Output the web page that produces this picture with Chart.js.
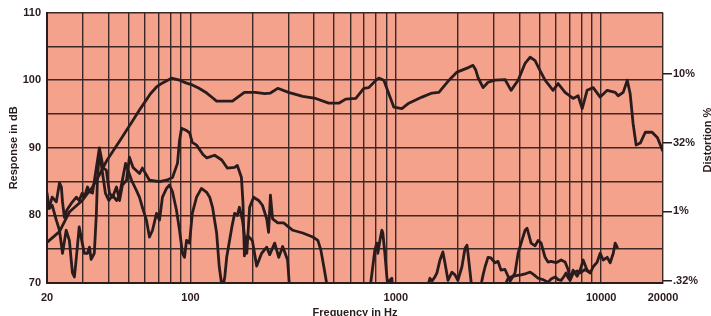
<!DOCTYPE html>
<html><head><meta charset="utf-8">
<script src="https://cdn.jsdelivr.net/npm/chart.js@4.4.1/dist/chart.umd.min.js"></script>
<style>html,body{margin:0;padding:0;background:#fff;overflow:hidden}#wrap{width:711px;height:316px;position:relative}</style>
</head><body><div id="wrap"><canvas id="c" width="711" height="316"></canvas></div>
<script>
// ---- axis definitions ----
const xGridFreqs = [20,30,40,50,60,70,80,90,100,200,300,400,500,600,700,800,900,1000,2000,3000,4000,5000,6000,7000,8000,9000,10000,20000];
const xTickLabels = [20,100,1000,10000,20000];
const distTickDb = [70.3,80.6,90.7,100.9];
const distTickLabels = ['.32%','1%','32%','10%'];

// ---- response curve (dB) ----
const respFreq = [20,23,25.7,29.7,33.3,36,38.9,43.6,45.6,48.8,51,57,63.8,68.3,73,80.8,88.4,95,102,110,120,128,134,160,170,183,207,230,245,266,300,352,407,471,527,570,638,698,738,800,826,874,924,978,1070,1156,1340,1500,1620,1815,1985,2270,2377,2450,2512,2660,2812,3040,3400,3640,3940,4260,4510,4765,5040,5330,5830,6170,6670,7300,7720,8080,8540,9140,9890,10700,11700,12100,12800,13400,13840,14300,14800,15500,16400,17700,18800,19900];
const respDb   = [76,77.6,80.5,82.2,84.2,86,88,90.3,91.2,92.6,93.5,95.8,98,99,99.6,100.3,100,99.6,99.3,98.8,98.1,97.4,96.9,96.9,97.5,98.2,98.2,98,98.1,98.8,98.2,97.6,97.3,96.6,96.6,97.2,97.3,98.8,98.9,100,100.3,100,98,96,95.8,96.6,97.5,98.1,98.2,100,101.2,101.9,102.2,101.5,100.4,98.9,99.7,100,100.1,98.5,100,102.5,103.4,102.9,101.4,100,98.5,99.5,98.2,97.3,97.7,95.8,98.5,98.9,97.5,98.5,98.2,97.7,98.2,100,98,93.6,90.4,90.7,92.3,92.3,91.5,89.6];

// ---- second-harmonic distortion trace (null = gap) ----
const h2Freq = [20,20.5,21.2,22.2,23,23.5,23.8,24.3,25,26.3,27.8,28.7,29.7,30.4,31.5,32.2,33.3,34.8,36,36.5,37.6,38.9,40.3,41.7,43.6,45.1,46.6,48.8,50.4,52.5,56.4,58.3,63.1,70.6,76.4,81.7,86.4,88.4,90.4,95,99,102,107,115,120,131,142,151,164,169,177,180,183,186,190,200,210,222,235,243,257,269,281,297,304,
  null,747,772,790,808,817,836,855,864,884,904,914,935,956,967,
  null,1416,1465,1500,1550,1585,1640,1695,1734,1794,1876,1940,2005,2098,2171,2220,2245,2349,
  null,2570,2660,2720,2812,2905,3040,3146,3250,3400,3520,3600,3724,3805,3940,4073,4260,4355,4455,4555,4765,4930,5100,5330,5510,5700,6030,6380,6670,6900,7060,7300,7640,7900,8170,8540,8840,9140,9560,9890,10230,10700,11060,11450,11700,11970];
const h2Db = [82.2,81.2,82.7,82,84.8,84.2,82,79.7,80.8,81.8,82.7,82.2,83.3,82.7,84.2,83.5,83.3,87.1,90,89,87,86.7,83.3,82.7,84.2,82.2,84.5,85.2,88.6,87.1,86.2,87,85.2,85,85.2,85.6,87.7,91.1,92.9,92.6,92.2,90.8,90.4,89,88.5,88.9,88.2,87,87.1,87.4,85.6,82,74,76,77,76.3,72.5,74.4,75.3,74.2,75.9,73.8,75.4,73.4,69,
  null,69,72.4,74.9,75.9,74.4,76.3,77.8,77.4,74.4,70.9,69.5,70.4,70.7,69,
  null,69,70.7,70.3,70.9,71.5,73.4,74.6,73,70.4,71.6,71.2,70.4,72.4,75.1,75.6,74.4,69,
  null,69,71.2,72.4,73.8,73.7,73,73.2,71.9,72,71,70.3,71,71.5,74.4,75.9,77.8,78.1,77,75.9,75.5,76.3,75.9,73.8,73.1,73.2,73,73.4,73.1,72,70.6,71.9,71,71.9,73.4,71.9,71.5,72.4,73.1,74.4,73.4,73.8,73,74.4,75.9,75.3];

// ---- third-harmonic distortion trace (null = gap) ----
const h3Freq = [20,20.5,21.2,22.2,23,23.8,24.8,25.7,26.6,27.2,27.8,28.7,29.7,30.4,31.5,32.2,32.8,34,34.8,35.2,36,37.3,38.5,40,41.7,43.6,45.1,48.3,51.6,54.5,56.4,58.3,61,63.1,65.3,68.3,70.6,73,76.4,79,81.7,85.4,88.4,91.4,93.5,95.6,98.9,102,107,113,120,124,128,134,138,143,147,150,159,164,169,173,179,183,188,194,203,207,215,224,235,240,245,251,266,284,300,315,352,394,417,431,446,466,
  null,3330,3520,3640,3850,4073,4305,4510,4710,4930,5210,5510,5700,5965,6170,6380,6600,6745,6900,7060,7300,7640,7900,8350,8840];
const h3Db = [83.3,81,81.5,79.3,77.8,74.4,77.8,76.3,71.5,70.9,73.8,78.3,75.9,74.4,74.4,75.3,73.5,74.4,80.3,85.2,89.6,86.2,83.3,82.2,83,82.2,83,87.7,85.2,83.7,82.7,81.2,79.3,76.8,77.8,80.3,79.3,82.7,84,84.5,83.5,80.8,77.8,74.4,73.8,76.3,75.9,80.3,82.7,84,83.4,82.7,81.2,77.4,72.4,69,71,73.8,78.3,80.3,80,81.2,79.3,77,74.4,81.2,82.7,82.5,82.2,81.5,79.5,77.5,83,79.5,78.9,78.9,78.3,77.8,77.4,76.8,76.3,74.9,72.4,69,
  null,69,70.7,70.9,71.1,71.2,71.4,71.6,71.2,70.7,70.5,70.1,70.6,70.9,70.5,70.4,71,71.5,70.8,70.4,71.4,71.8,71.5,72,71.5];

// ---- style ----
const ink = '#2a1b1c';
const gridInk = '#3b2726';
const salmon = '#F5A28C';
const fam = '"Liberation Sans", Arial, Helvetica, sans-serif';

function pts(fs, ds) {
  let last = fs[0];
  return fs.map((f, i) => {
    if (f === null || ds[i] === null) return { x: last, y: null };
    last = f;
    return { x: f, y: ds[i] };
  });
}
function ds(label, fs, dv) {
  return { label, data: pts(fs, dv), showLine: true, borderColor: ink, borderWidth: 2.8, pointRadius: 0, tension: 0, spanGaps: false, borderJoinStyle: 'round', borderCapStyle: 'round' };
}

const bgPlugin = {
  id: 'bg',
  beforeDraw(chart) {
    const a = chart.chartArea, c = chart.ctx;
    c.save(); c.fillStyle = salmon; c.fillRect(a.left, a.top, a.right - a.left, a.bottom - a.top); c.restore();
  }
};
const rightTitle = {
  id: 'rtitle',
  afterDraw(chart) {
    const c = chart.ctx;
    c.save();
    c.translate(708, 140);
    c.rotate(-Math.PI / 2);
    c.font = 'bold 11px ' + fam;
    c.fillStyle = ink; c.textAlign = 'center'; c.textBaseline = 'middle';
    c.fillText('Distortion %', 0, 0);
    c.restore();
  }
};

new Chart(document.getElementById('c'), {
  type: 'scatter',
  data: { datasets: [ ds('Response', respFreq, respDb), ds('2nd harmonic', h2Freq, h2Db), ds('3rd harmonic', h3Freq, h3Db) ] },
  options: {
    responsive: false, animation: false, devicePixelRatio: 1,
    layout: { padding: { top: 12, left: 0, right: 0, bottom: 0 } },
    plugins: { legend: { display: false }, tooltip: { enabled: false } },
    scales: {
      x: {
        type: 'logarithmic', position: 'bottom', min: 20, max: 20000,
        afterBuildTicks: s => { s.ticks = xGridFreqs.map(v => ({ value: v })); },
        afterFit: s => { s.height = 33; },
        ticks: { autoSkip: false, maxRotation: 0, minRotation: 0, padding: 8, color: ink,
          font: { family: fam, size: 11, weight: 'bold' },
          callback: v => xTickLabels.includes(v) ? String(v) : '' },
        grid: { color: gridInk, lineWidth: 1.4, drawTicks: false },
        border: { display: true, color: ink, width: 2 },
        title: { display: true, text: 'Frequency in Hz', color: ink,
          font: { family: fam, size: 11, weight: 'bold', lineHeight: 1 }, padding: { top: 0, bottom: -2 } }
      },
      y: {
        position: 'left', min: 70, max: 110,
        afterFit: s => { s.width = 47; },
        ticks: { stepSize: 5, padding: 6, color: ink, font: { family: fam, size: 11, weight: 'bold' },
          callback: v => (v % 10 === 0 ? String(v) : '') },
        grid: { color: gridInk, lineWidth: 1.4, drawTicks: false },
        border: { display: true, color: ink, width: 2 },
        title: { display: true, text: 'Response in dB', color: ink,
          font: { family: fam, size: 11, weight: 'bold', lineHeight: 1 }, padding: { top: 8, bottom: 0 } }
      },
      y2: {
        position: 'right', min: 70, max: 110,
        afterBuildTicks: s => { s.ticks = distTickDb.map(v => ({ value: v })); },
        afterFit: s => { s.width = 48; },
        ticks: { autoSkip: false, padding: 1, color: ink, font: { family: fam, size: 11, weight: 'bold' },
          callback: (v, i) => distTickLabels[i] },
        grid: { drawOnChartArea: false, drawTicks: true, tickLength: 9, color: ink, lineWidth: 1.5 },
        border: { display: false }
      }
    }
  },
  plugins: [bgPlugin, rightTitle]
});
</script></body></html>
